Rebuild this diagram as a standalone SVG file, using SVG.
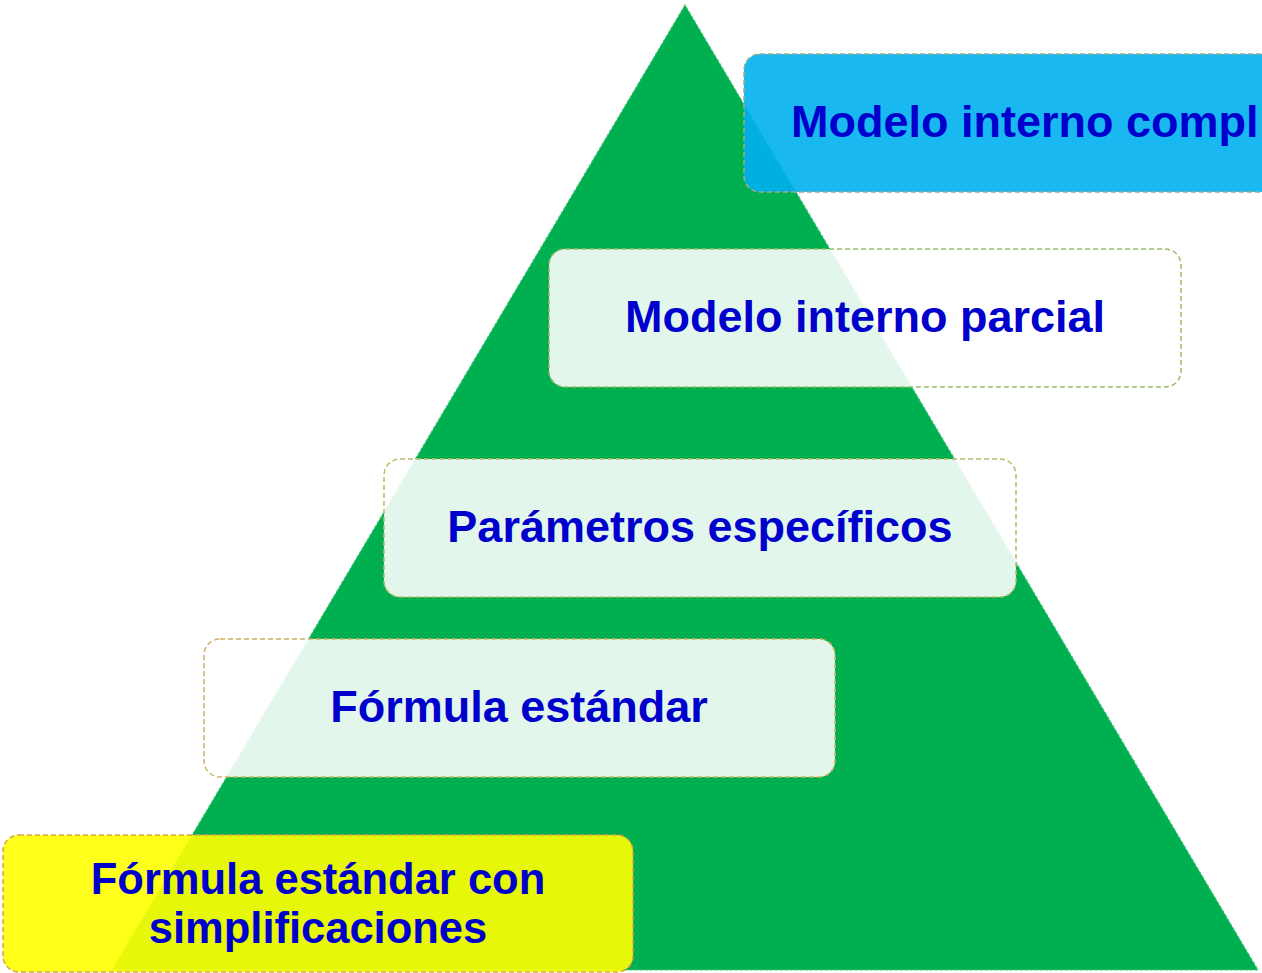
<svg xmlns="http://www.w3.org/2000/svg" width="1262" height="973" viewBox="0 0 1262 973">
<style>
.lbl{font-family:"Liberation Sans",Arial,sans-serif;font-weight:bold;font-size:45px;fill:#0000CC;}
.sm{font-size:43.5px;}
.box{stroke-width:1.5;stroke-dasharray:5,3;}
</style>
<rect width="1262" height="973" fill="#FFFFFF"/>
<g id="pyramid">
<polygon points="685,5 112,970 1258,970" fill="#00B050" stroke="#3DC478" stroke-width="1.2" stroke-dasharray="3,2"/>
</g>
<g id="connectors"></g>
<g id="n1">
<rect class="box" x="744" y="54" width="560" height="138" rx="16" fill="#00B0F0" fill-opacity="0.9" stroke="#9AAE8A"/>
<text class="lbl" x="791" y="137">Modelo interno compl</text>
</g>
<g id="n2">
<rect class="box" x="549" y="249" width="632" height="138" rx="16" fill="#FFFFFF" fill-opacity="0.89" stroke="#9BBB6A"/>
<text class="lbl" x="865" y="332" text-anchor="middle">Modelo interno parcial</text>
</g>
<g id="n3">
<rect class="box" x="384" y="459" width="632" height="138" rx="16" fill="#FFFFFF" fill-opacity="0.89" stroke="#BDBA66"/>
<text class="lbl" x="700" y="542" text-anchor="middle">Parámetros específicos</text>
</g>
<g id="n4">
<rect class="box" x="204" y="639" width="631" height="138" rx="16" fill="#FFFFFF" fill-opacity="0.89" stroke="#CDB260"/>
<text class="lbl" x="519" y="722" text-anchor="middle">Fórmula estándar</text>
</g>
<g id="n5">
<rect class="box" x="3" y="835" width="630" height="137" rx="16" fill="#FFFF00" fill-opacity="0.9" stroke="#D9A050"/>
<text class="lbl sm" x="318" y="894" text-anchor="middle">Fórmula estándar con</text>
<text class="lbl sm" x="318" y="943" text-anchor="middle">simplificaciones</text>
</g>
</svg>
